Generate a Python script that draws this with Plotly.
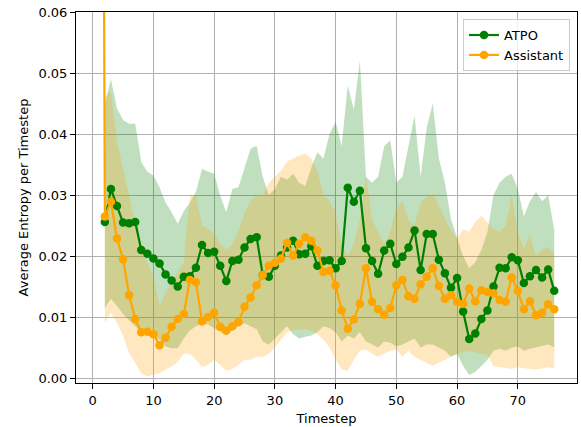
import plotly.graph_objects as go

# ---------------- data ----------------
steps_band = list(range(2, 77))

atpo_steps = list(range(2, 77))
atpo_mean = [0.0256, 0.0310, 0.0282, 0.0255, 0.0254, 0.0256, 0.0210, 0.0204, 0.0196, 0.0188,
             0.0170, 0.0160, 0.0150, 0.0166, 0.0167, 0.0181, 0.0218, 0.0205, 0.0207, 0.0184,
             0.0159, 0.0192, 0.0194, 0.0214, 0.0228, 0.0231, 0.0169, 0.0166, 0.0184, 0.0201,
             0.0214, 0.0225, 0.0203, 0.0204, 0.0216, 0.0184, 0.0192, 0.0193, 0.0180, 0.0192,
             0.0312, 0.0289, 0.0307, 0.0213, 0.0192, 0.0171, 0.0209, 0.0220, 0.0187, 0.0199,
             0.0214, 0.0242, 0.0177, 0.0236, 0.0236, 0.0194, 0.0172, 0.0148, 0.0164, 0.0109,
             0.0064, 0.0073, 0.0097, 0.0111, 0.0150, 0.0181, 0.0180, 0.0198, 0.0193, 0.0156,
             0.0167, 0.0177, 0.0165, 0.0178, 0.0143]

asst_steps = list(range(1, 77))
asst_mean = [0.3000,
             0.0265, 0.0289, 0.0229, 0.0195, 0.0136, 0.0097, 0.0075, 0.0076, 0.0072, 0.0054,
             0.0066, 0.0084, 0.0097, 0.0105, 0.0161, 0.0157, 0.0093, 0.0100, 0.0107, 0.0084,
             0.0078, 0.0085, 0.0092, 0.0117, 0.0132, 0.0152, 0.0169, 0.0184, 0.0189, 0.0196,
             0.0222, 0.0201, 0.0220, 0.0231, 0.0225, 0.0209, 0.0174, 0.0176, 0.0152, 0.0111,
             0.0081, 0.0096, 0.0122, 0.0180, 0.0125, 0.0113, 0.0104, 0.0115, 0.0152, 0.0161,
             0.0134, 0.0130, 0.0154, 0.0166, 0.0180, 0.0151, 0.0130, 0.0136, 0.0125, 0.0122,
             0.0147, 0.0126, 0.0144, 0.0141, 0.0139, 0.0128, 0.0125, 0.0165, 0.0143, 0.0113,
             0.0126, 0.0103, 0.0107, 0.0121, 0.0113]

atpo_upper = [0.0450, 0.0490, 0.0442, 0.0423, 0.0417, 0.0417, 0.0354, 0.0338, 0.0332, 0.0313,
              0.0288, 0.0272, 0.0253, 0.0274, 0.0288, 0.0305, 0.0343, 0.0338, 0.0335, 0.0299,
              0.0272, 0.0310, 0.0313, 0.0343, 0.0376, 0.0381, 0.0330, 0.0300, 0.0310, 0.0330,
              0.0325, 0.0335, 0.0320, 0.0315, 0.0345, 0.0370, 0.0360, 0.0400, 0.0420, 0.0380,
              0.0480, 0.0440, 0.0520, 0.0330, 0.0320, 0.0330, 0.0380, 0.0390, 0.0320, 0.0330,
              0.0380, 0.0430, 0.0330, 0.0410, 0.0450, 0.0360, 0.0320, 0.0260, 0.0230, 0.0200,
              0.0180, 0.0190, 0.0210, 0.0240, 0.0300, 0.0320, 0.0330, 0.0335, 0.0310, 0.0265,
              0.0290, 0.0305, 0.0290, 0.0300, 0.0243]

atpo_lower = [0.0115, 0.0130, 0.0118, 0.0105, 0.0095, 0.0085, 0.0075, 0.0069, 0.0069, 0.0063,
              0.0052, 0.0049, 0.0049, 0.0065, 0.0078, 0.0085, 0.0090, 0.0088, 0.0082, 0.0075,
              0.0070, 0.0078, 0.0085, 0.0090, 0.0085, 0.0080, 0.0060, 0.0055, 0.0065, 0.0075,
              0.0085, 0.0072, 0.0065, 0.0068, 0.0070, 0.0075, 0.0085, 0.0082, 0.0075, 0.0060,
              0.0070, 0.0065, 0.0075, 0.0060, 0.0055, 0.0050, 0.0060, 0.0058, 0.0052, 0.0055,
              0.0060, 0.0065, 0.0050, 0.0055, 0.0055, 0.0050, 0.0045, 0.0035, 0.0040, 0.0020,
              0.0005, 0.0010, 0.0020, 0.0030, 0.0045, 0.0048, 0.0045, 0.0050, 0.0052, 0.0045,
              0.0048, 0.0050, 0.0052, 0.0055, 0.0050]

asst_upper = [0.0460, 0.0470, 0.0387, 0.0343, 0.0294, 0.0250, 0.0211, 0.0189, 0.0167, 0.0118,
              0.0140, 0.0157, 0.0173, 0.0190, 0.0298, 0.0300, 0.0250, 0.0245, 0.0236, 0.0220,
              0.0210, 0.0220, 0.0240, 0.0270, 0.0290, 0.0300, 0.0300, 0.0320, 0.0330, 0.0340,
              0.0355, 0.0360, 0.0365, 0.0368, 0.0360, 0.0340, 0.0300, 0.0290, 0.0270, 0.0220,
              0.0200, 0.0220, 0.0260, 0.0330, 0.0260, 0.0240, 0.0220, 0.0240, 0.0280, 0.0290,
              0.0260, 0.0250, 0.0288, 0.0297, 0.0302, 0.0283, 0.0261, 0.0242, 0.0228, 0.0244,
              0.0240, 0.0256, 0.0266, 0.0255, 0.0245, 0.0240, 0.0250, 0.0300, 0.0240, 0.0212,
              0.0235, 0.0200, 0.0210, 0.0215, 0.0205]

asst_lower = [0.0091, 0.0107, 0.0091, 0.0069, 0.0041, 0.0025, 0.0008, 0.0003, 0.0005, 0.0008,
              0.0014, 0.0019, 0.0027, 0.0040, 0.0040, 0.0030, 0.0018, 0.0022, 0.0030, 0.0022,
              0.0012, 0.0015, 0.0022, 0.0030, 0.0030, 0.0035, 0.0035, 0.0040, 0.0050, 0.0062,
              0.0075, 0.0078, 0.0080, 0.0080, 0.0078, 0.0072, 0.0063, 0.0050, 0.0030, 0.0014,
              0.0012, 0.0030, 0.0045, 0.0047, 0.0040, 0.0035, 0.0040, 0.0045, 0.0047, 0.0035,
              0.0045, 0.0035, 0.0030, 0.0025, 0.0020, 0.0025, 0.0030, 0.0035, 0.0040, 0.0042,
              0.0045, 0.0042, 0.0040, 0.0038, 0.0020, 0.0018, 0.0016, 0.0015, 0.0018, 0.0016,
              0.0015, 0.0014, 0.0016, 0.0018, 0.0016]

x_ticks = [0, 10, 20, 30, 40, 50, 60, 70]
y_ticks = [0.00, 0.01, 0.02, 0.03, 0.04, 0.05, 0.06]

GREEN = "#008000"
ORANGE = "#FFA500"
FONT = "DejaVu Sans"

fig = go.Figure()

# shaded bands (drawn beneath lines)
fig.add_trace(go.Scatter(x=steps_band, y=atpo_lower, mode="lines",
                         line=dict(width=0), showlegend=False, hoverinfo="skip"))
fig.add_trace(go.Scatter(x=steps_band, y=atpo_upper, mode="lines",
                         line=dict(width=0), fill="tonexty",
                         fillcolor="rgba(0,128,0,0.25)", showlegend=False, hoverinfo="skip"))
fig.add_trace(go.Scatter(x=steps_band, y=asst_lower, mode="lines",
                         line=dict(width=0), showlegend=False, hoverinfo="skip"))
fig.add_trace(go.Scatter(x=steps_band, y=asst_upper, mode="lines",
                         line=dict(width=0), fill="tonexty",
                         fillcolor="rgba(255,165,0,0.25)", showlegend=False, hoverinfo="skip"))

# mean lines
fig.add_trace(go.Scatter(x=atpo_steps, y=atpo_mean, mode="lines+markers", name="ATPO",
                         line=dict(color=GREEN, width=2.2),
                         marker=dict(color=GREEN, size=8.5)))
fig.add_trace(go.Scatter(x=asst_steps, y=asst_mean, mode="lines+markers", name="Assistant",
                         line=dict(color=ORANGE, width=2.2),
                         marker=dict(color=ORANGE, size=8.5)))

axis_common = dict(
    showline=True, linecolor="black", linewidth=1, mirror=True,
    ticks="outside", ticklen=5, tickwidth=1, tickcolor="black",
    showgrid=True, gridcolor="#b0b0b0", gridwidth=1,
    zeroline=False,
    tickfont=dict(family=FONT, size=13, color="black"),
)

fig.update_layout(
    width=581, height=427,
    margin=dict(l=76, r=4, t=12, b=44),
    paper_bgcolor="white", plot_bgcolor="white",
    font=dict(family=FONT, size=13, color="black"),
    xaxis=dict(range=[-2.75, 79.75], tickvals=x_ticks,
               title=dict(text="Timestep", font=dict(family=FONT, size=13), standoff=7),
               **axis_common),
    yaxis=dict(range=[-0.0008, 0.06], tickvals=y_ticks, tickformat=".2f",
               title=dict(text="Average Entropy per Timestep", font=dict(family=FONT, size=13), standoff=6),
               **axis_common),
    legend=dict(x=0.986, y=0.981, xanchor="right", yanchor="top", traceorder="normal",
                bgcolor="rgba(255,255,255,0.8)", bordercolor="#cccccc", borderwidth=1,
                font=dict(family=FONT, size=13)),
    showlegend=True,
)

fig.write_html("out.html")
